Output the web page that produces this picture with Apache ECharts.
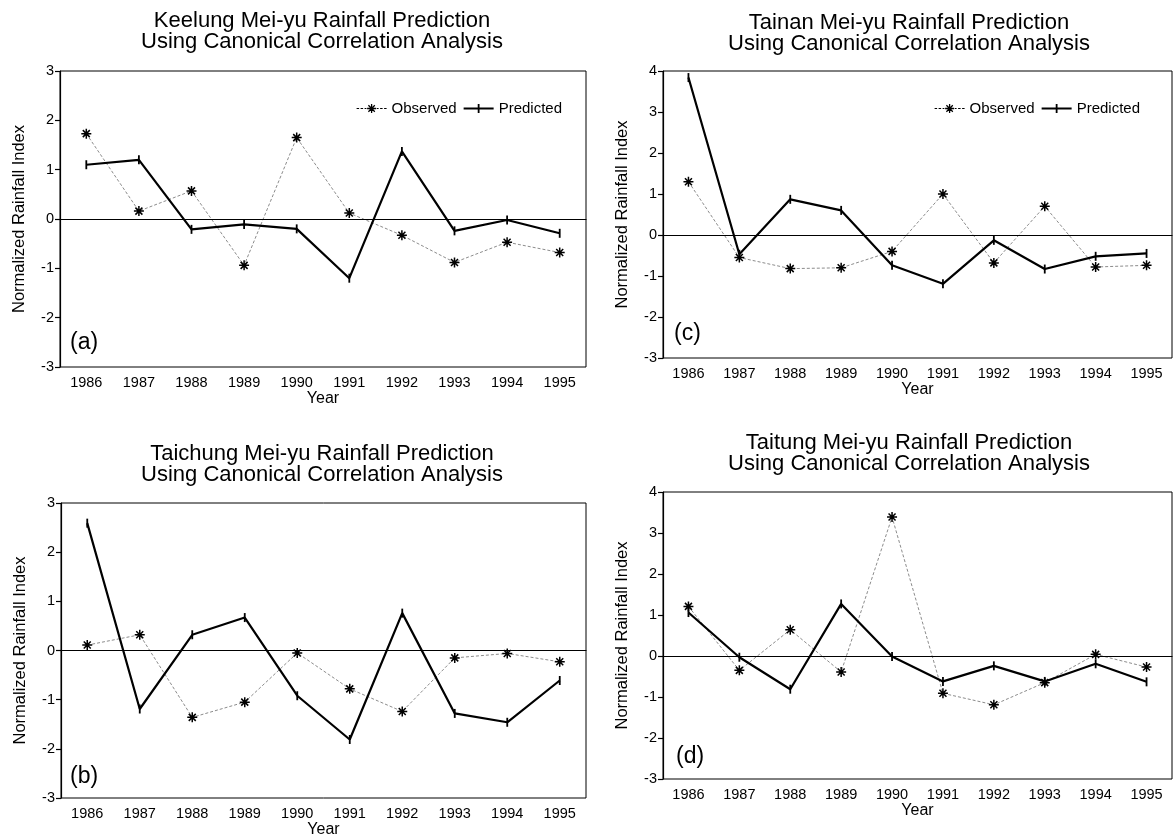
<!DOCTYPE html>
<html>
<head>
<meta charset="utf-8">
<script src="https://cdn.jsdelivr.net/npm/echarts@6/dist/echarts.min.js"></script>
<style>
html,body{margin:0;padding:0;background:#fff;}
#chart{width:1174px;height:839px;}
</style>
</head>
<body>
<div id="chart"></div>
<script>
var years = ['1986','1987','1988','1989','1990','1991','1992','1993','1994','1995'];

var keelungObserved  = [1.73, 0.16, 0.57, -0.94, 1.65, 0.12, -0.33, -0.88, -0.47, -0.68];
var keelungPredicted = [1.10, 1.20, -0.21, -0.11, -0.20, -1.20, 1.37, -0.24, -0.02, -0.29];

var taichungObserved  = [0.11, 0.32, -1.36, -1.05, -0.05, -0.78, -1.24, -0.15, -0.06, -0.23];
var taichungPredicted = [2.59, -1.19, 0.32, 0.67, -0.92, -1.81, 0.76, -1.28, -1.46, -0.61];

var tainanObserved  = [1.30, -0.55, -0.82, -0.80, -0.40, 1.00, -0.68, 0.70, -0.78, -0.74];
var tainanPredicted = [3.84, -0.47, 0.87, 0.60, -0.74, -1.19, -0.13, -0.83, -0.52, -0.45];

var taitungObserved  = [1.21, -0.35, 0.64, -0.39, 3.39, -0.91, -1.19, -0.65, 0.04, -0.27];
var taitungPredicted = [1.06, -0.03, -0.81, 1.27, -0.01, -0.62, -0.24, -0.62, -0.19, -0.63];

var titleLine1 = ['Keelung Mei-yu Rainfall Prediction', 'Taichung Mei-yu Rainfall Prediction',
                  'Tainan Mei-yu Rainfall Prediction', 'Taitung Mei-yu Rainfall Prediction'];
var titleLine2 = 'Using Canonical Correlation Analysis';
var panelTags = ['(a)', '(b)', '(c)', '(d)'];
var yMaxes = [3, 3, 4, 4];

var FONT = '"Liberation Sans", Arial, Helvetica, sans-serif';
var ASTERISK = 'path://M0,5L10,5M5,0L5,10M1.5,1.5L8.5,8.5M1.5,8.5L8.5,1.5';
var OBS_ICON = 'path://M0,4.6H2.5V5.4H0Z M4,4.6H6.5V5.4H4Z M8,4.6H9.8V5.4H8Z ' +
  'M20.2,4.6H22V5.4H20.2Z M23.5,4.6H26V5.4H23.5Z M27.5,4.6H30V5.4H27.5Z ' +
  'M10.5,4.35H19.5V5.65H10.5Z M14.35,0.5H15.65V9.5H14.35Z ' +
  'M11.35,2.25L12.25,1.35L18.65,7.75L17.75,8.65Z M11.35,7.75L17.75,1.35L18.65,2.25L12.25,8.65Z';
var PRED_ICON = 'path://M0,3.9H30V6.1H0Z M14.1,0.5H15.9V9.5H14.1Z';

var grids = [
  {left: 60,  top: 71,  width: 526, height: 296},
  {left: 61,  top: 503, width: 525, height: 295},
  {left: 663, top: 71,  width: 509, height: 287},
  {left: 663, top: 492, width: 509, height: 287}
];
var titlePos = [
  {cx: 322, top: 10},
  {cx: 322, top: 443},
  {cx: 909, top: 12},
  {cx: 909, top: 432}
];
var tagPos = [
  {left: 70, top: 331},
  {left: 70, top: 765},
  {left: 674, top: 322},
  {left: 676, top: 745}
];
var observedSets = [keelungObserved, taichungObserved, tainanObserved, taitungObserved];
var predictedSets = [keelungPredicted, taichungPredicted, tainanPredicted, taitungPredicted];

function legendData() {
  return [
    {name: 'Observed', icon: OBS_ICON, itemStyle: {color: '#000', borderWidth: 0}},
    {name: 'Predicted', icon: PRED_ICON, itemStyle: {color: '#000', borderWidth: 0}}
  ];
}

var option = {
  backgroundColor: '#fff',
  animation: false,
  grid: [], xAxis: [], yAxis: [], series: [], title: [],
  legend: [
    {data: legendData(), right: 612, top: 101, orient: 'horizontal',
     itemWidth: 30, itemHeight: 10, itemGap: 7, padding: 0,
     textStyle: {fontFamily: FONT, fontSize: 15, color: '#000'}},
    {data: legendData(), right: 34, top: 101, orient: 'horizontal',
     itemWidth: 30, itemHeight: 10, itemGap: 7, padding: 0,
     textStyle: {fontFamily: FONT, fontSize: 15, color: '#000'}}
  ]
};

for (var i = 0; i < 4; i++) {
  var g = grids[i];
  option.grid.push({left: g.left, top: g.top, width: g.width, height: g.height,
    show: true, borderColor: '#000', borderWidth: 1, backgroundColor: 'transparent', containLabel: false});
  option.xAxis.push({
    type: 'category', gridIndex: i, data: years, boundaryGap: true,
    name: 'Year', nameLocation: 'middle', nameGap: 24,
    nameTextStyle: {fontFamily: FONT, fontSize: 16, color: '#000'},
    axisLine: {lineStyle: {color: '#000', width: 1.2}},
    axisTick: {alignWithLabel: true, length: 4, lineStyle: {color: '#000', width: 1.2}},
    axisLabel: {fontFamily: FONT, fontSize: 14.5, color: '#000', margin: 8},
    splitLine: {show: false}
  });
  option.yAxis.push({
    type: 'value', gridIndex: i, min: -3, max: yMaxes[i], interval: 1,
    name: 'Normalized Rainfall Index', nameLocation: 'middle', nameGap: 32,
    nameTextStyle: {fontFamily: FONT, fontSize: 16.5, color: '#000'},
    axisLine: {show: true, lineStyle: {color: '#000', width: 1.2}},
    axisTick: {show: true, length: 5, lineStyle: {color: '#000', width: 1.2}},
    axisLabel: {fontFamily: FONT, fontSize: 14.5, color: '#000', margin: 6},
    splitLine: {show: false}
  });
  option.series.push({
    name: 'Observed', type: 'line', xAxisIndex: i, yAxisIndex: i,
    data: observedSets[i],
    symbol: ASTERISK, symbolSize: 10,
    lineStyle: {color: '#8c8c8c', width: 1, type: [3, 2]},
    itemStyle: {color: '#000', borderColor: '#000', borderWidth: 1.5},
    z: 3
  });
  option.series.push({
    name: 'Predicted', type: 'line', xAxisIndex: i, yAxisIndex: i,
    data: predictedSets[i],
    symbol: 'rect', symbolSize: [1.8, 9],
    lineStyle: {color: '#000', width: 2.2},
    itemStyle: {color: '#000'},
    z: 4,
    markLine: {
      silent: true, symbol: 'none', animation: false,
      label: {show: false},
      lineStyle: {color: '#000', width: 1.1, type: 'solid'},
      data: [{yAxis: 0}]
    }
  });
  option.title.push({
    text: titleLine1[i] + '\n' + titleLine2,
    left: titlePos[i].cx, top: titlePos[i].top, textAlign: 'center',
    textStyle: {fontFamily: FONT, fontSize: 22, fontWeight: 'normal', color: '#000', lineHeight: 21.5},
    padding: 0
  });
  option.title.push({
    text: panelTags[i], left: tagPos[i].left, top: tagPos[i].top, padding: 0,
    textStyle: {fontFamily: FONT, fontSize: 23, fontWeight: 'normal', color: '#000', lineHeight: 24}
  });
}

var chart = echarts.init(document.getElementById('chart'), null, {renderer: 'canvas'});
chart.setOption(option);
</script>
</body>
</html>
